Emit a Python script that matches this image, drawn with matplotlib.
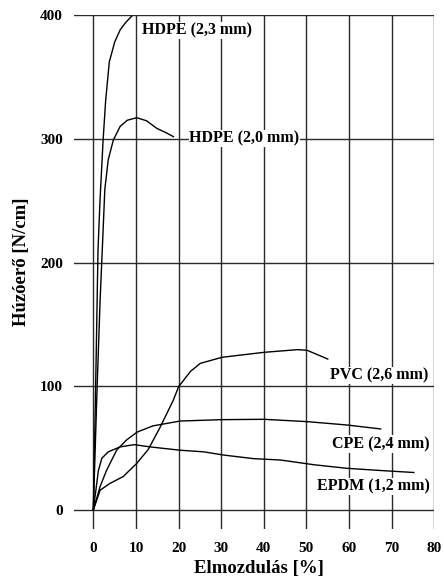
import matplotlib
matplotlib.use("Agg")
import matplotlib.pyplot as plt

# ---- data ----
hdpe23_x = [0, 0.55, 1.1, 1.57, 2.3, 2.9, 3.75, 5.0, 6.3, 7.6, 9.0]
hdpe23_y = [0, 100, 210, 250, 299, 331, 362, 378, 388, 394, 399]

hdpe20_x = [0, 0.9, 1.6, 2.1, 2.7, 3.5, 4.7, 6.3, 8.0, 10.2, 12.5, 14.9, 17.0, 18.8]
hdpe20_y = [0, 100, 170, 210, 259, 283, 299, 310, 315, 317, 314.5, 308.4, 305, 301.7]

pvc_x = [0, 1.6, 3.9, 7.0, 10.2, 12.9, 15.7, 18.8, 20.0, 22.8, 25.1, 30.2, 40.0, 48.0, 50.2, 55.0]
pvc_y = [0, 16, 21.5, 27, 37.7, 49, 67, 89, 99.6, 112, 118.5, 123.4, 127.4, 129.6, 129, 122]

cpe_x = [0, 1.6, 3.1, 5.5, 7.8, 10.3, 14.0, 20.4, 30.0, 40.0, 50.2, 59.5, 67.4]
cpe_y = [0, 19, 32, 48.5, 56.6, 63, 68, 71.9, 73, 73.3, 71.4, 68.7, 65.5]

epdm_x = [0, 1.2, 2.0, 3.5, 6.3, 9.6, 13.3, 20.4, 25.9, 30.6, 37.6, 43.9, 51.7, 59.5, 67.0, 75.2]
epdm_y = [0, 32, 41.8, 47, 51, 52.8, 51, 48.3, 47, 44.4, 41.5, 40.4, 36.6, 33.7, 32, 30.3]

x_ticks = [0, 10, 20, 30, 40, 50, 60, 70, 80]
y_ticks = [0, 100, 200, 300, 400]

labels = ["HDPE (2,3 mm)", "HDPE (2,0 mm)", "PVC (2,6 mm)", "CPE (2,4 mm)", "EPDM (1,2 mm)"]
x_label = "Elmozdulás [%]"
y_label = "Húzóerő [N/cm]"

# ---- figure ----
plt.rcParams['font.family'] = ['Liberation Serif', 'DejaVu Serif']
plt.rcParams['font.weight'] = 'bold'

fig = plt.figure(figsize=(4.44, 5.78), dpi=100)
ax = fig.add_axes([74/444, 1 - 529/578, (434.3 - 74)/444, (529 - 15)/578])

ax.set_xlim(-4.53, 80)
ax.set_ylim(-15.35, 400)

for s in ax.spines.values():
    s.set_visible(False)

ax.set_xticks(x_ticks)
ax.set_yticks(y_ticks)
ax.set_xticklabels([str(v) for v in x_ticks], fontsize=11, fontweight='bold')
ax.set_yticklabels([str(v) for v in y_ticks], fontsize=11, fontweight='bold')
ax.tick_params(axis='both', length=0)
ax.tick_params(axis='x', pad=9)
ax.tick_params(axis='y', pad=8)
ax.grid(True, color='#2a2a2a', linewidth=1.0)
ax.set_axisbelow(True)

lc = 'black'
lw = 1.0
ax.plot(hdpe23_x, hdpe23_y, color=lc, lw=lw, zorder=3)
ax.plot(hdpe20_x, hdpe20_y, color=lc, lw=lw, zorder=3)
ax.plot(pvc_x, pvc_y, color=lc, lw=lw, zorder=3)
ax.plot(cpe_x, cpe_y, color=lc, lw=lw, zorder=3)
ax.plot(epdm_x, epdm_y, color=lc, lw=lw, zorder=3)

bb = dict(facecolor='white', edgecolor='none', pad=0.5)
tkw = dict(fontsize=11.5, fontweight='bold', zorder=4, bbox=bb)
ax.text(11.35, 387.3, labels[0], ha='left', va='center', **tkw)
ax.text(22.5, 300.3, labels[1], ha='left', va='center', **tkw)
ax.text(78.6, 108.5, labels[2], ha='right', va='center', **tkw)
ax.text(79.0, 53.3, labels[3], ha='right', va='center', **tkw)
ax.text(79.0, 18.8, labels[4], ha='right', va='center', **tkw)

fig.text(259/444, 1 - 569/578, x_label, ha='center', va='center', fontsize=13.5, fontweight='bold')
fig.text(21.5/444, 1 - 262/578, y_label, ha='center', va='center', rotation=90, fontsize=13.5, fontweight='bold')

fig.savefig("out.png", dpi=100, facecolor='white')
